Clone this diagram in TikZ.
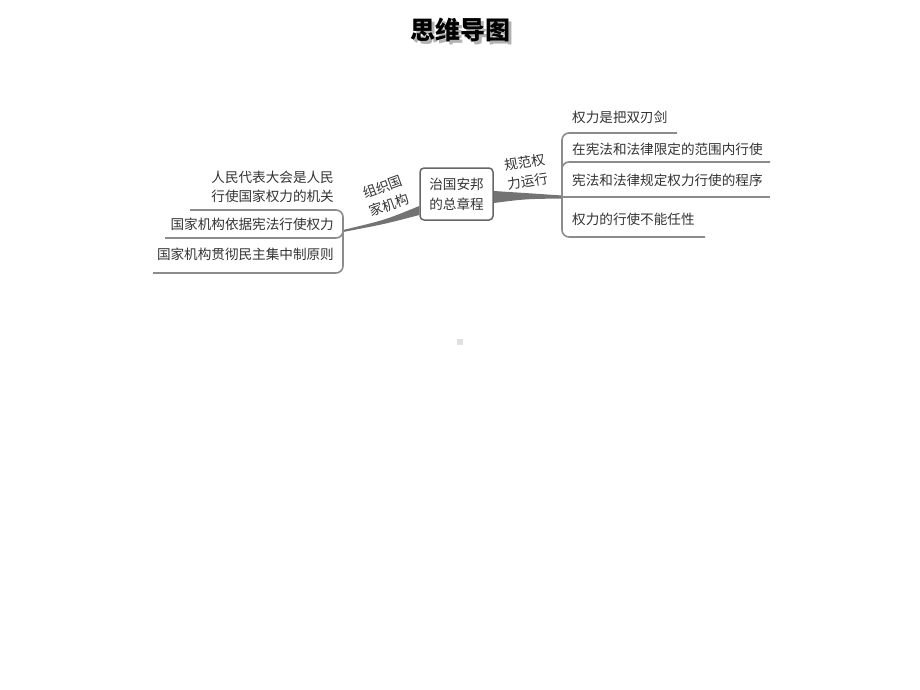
\documentclass[tikz,border=0pt]{standalone}
\usepackage{fontspec}
\newfontfamily\cjk{Noto Sans CJK SC}
\usetikzlibrary{calc}
\begin{document}
\begin{tikzpicture}[x=1pt,y=-1pt,
  txt/.style={font=\cjk\fontsize{13.6}{19}\selectfont, text=black!80, inner sep=0pt},
  rleaf/.style={txt, anchor=west},
  lleaf/.style={txt, anchor=east, align=right},
  bline/.style={draw=black!45, line width=1.6pt, rounded corners=7pt},
  conn/.style={fill=black!55},
  ttl/.style={font=\cjk\bfseries\fontsize{25}{30}\selectfont}]
\useasboundingbox (0,0) rectangle (920,690);
% title with shadow (one text node)
\node (title) [ttl, text=black, inner sep=0pt] at (460,31) {\makebox[0pt][l]{\hspace{3pt}\raisebox{-3pt}{\color{black!30}思维导图}}思维导图};
% center
\node (center) [draw=black!60, line width=1.5pt, rounded corners=4pt, minimum width=73pt, minimum height=52pt, align=center, txt, font=\cjk\fontsize{13.6}{20}\selectfont] at (456.5,194) {治国安邦\\的总章程};
% junctions
\coordinate (jr) at (562,197);
\coordinate (jl) at (343,231);
% connectors
\fill[conn] ($(center.east)+(0,-3)$) .. controls (525,193) .. ($(jr)+(0,-1.5)$) -- ($(jr)+(0,1.5)$) .. controls (525,199) .. ($(center.east)+(0,9)$) -- cycle;
\fill[conn] ($(center.west)+(0,12)$) .. controls (385,220) .. ($(jl)+(0,-1)$) -- ($(jl)+(0,1)$) .. controls (385,224) .. ($(center.west)+(0,21)$) -- cycle;
% branch labels
\node (lab1) [txt, rotate=20, align=center] at (386,196) {组织国\\家机构};
\node (lab2) [txt, rotate=9, align=center] at (526,172) {规范权\\力运行};
% right leaves
\node (r1) [rleaf] at (572,117) {权力是把双刃剑};
\node (r2) [rleaf] at (572,149) {在宪法和法律限定的范围内行使};
\node (r3) [rleaf] at (572,180) {宪法和法律规定权力行使的程序};
\node (r4) [rleaf] at (572,219) {权力的行使不能任性};
\coordinate (re1) at (677,133);
\coordinate (re2) at (770,162);
\coordinate (re3) at (770,197);
\coordinate (re4) at (705,237);
\draw[bline] (jr) |- (re1);
\draw[bline] (jr) |- (re2);
\draw[bline] (jr) -- (re3);
\draw[bline] (jr) |- (re4);
% left leaves
\node (l1) [lleaf] at (334,186.5) {人民代表大会是人民\\行使国家权力的机关};
\node (l2) [lleaf] at (334,224) {国家机构依据宪法行使权力};
\node (l3) [lleaf] at (334,254) {国家机构贯彻民主集中制原则};
\coordinate (le1) at (190,210);
\coordinate (le2) at (165,238);
\coordinate (le3) at (153,273);
\draw[bline] (jl) |- (le1);
\draw[bline] (jl) |- (le2);
\draw[bline] (jl) |- (le3);
% small square
\node (dot) [fill=black!12, minimum size=6pt, inner sep=0pt] at (460,342) {};
\end{tikzpicture}
\end{document}
